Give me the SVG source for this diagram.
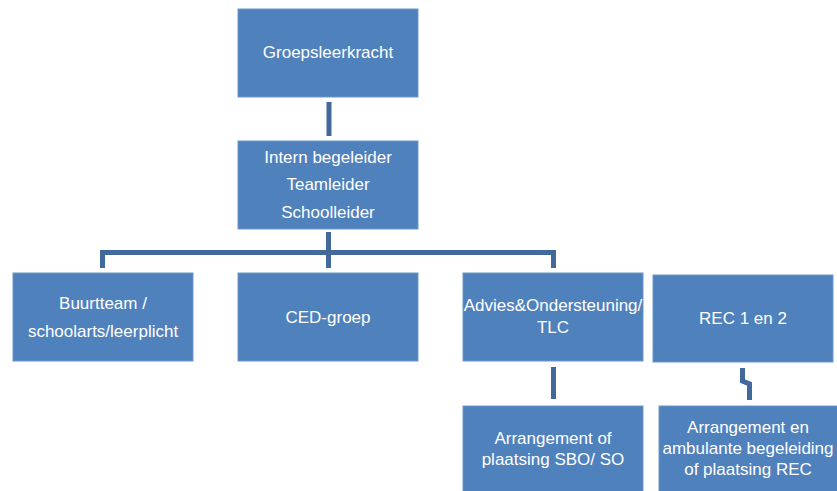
<svg xmlns="http://www.w3.org/2000/svg" width="837" height="491" viewBox="0 0 837 491">
<style>
.box{fill:#4F81BD;stroke:#7096c9;stroke-width:1}
.t{font-family:"Liberation Sans",Arial,sans-serif;font-size:17px;fill:#ffffff;text-anchor:middle}
.c{fill:none;stroke:#41699c;stroke-width:5}
</style>
<rect width="837" height="491" fill="#ffffff"/>
<g id="connectors">
<line class="c" x1="329" y1="102" x2="329" y2="136"/>
<line class="c" x1="328.5" y1="232" x2="328.5" y2="268"/>
<polyline class="c" points="102.5,268 102.5,252.5 553.5,252.5 553.5,268"/>
<line class="c" x1="553.5" y1="367" x2="553.5" y2="399"/>
<polyline class="c" points="742.5,368 742.5,381 749.5,384 749.5,400"/>
</g>
<g id="groepsleerkracht">
<rect class="box" x="238" y="9" width="180" height="88"/>
<text class="t" x="328" y="58">Groepsleerkracht</text>
</g>
<g id="intern">
<rect class="box" x="238" y="141" width="180" height="88"/>
<text class="t" x="328" y="163">Intern begeleider</text>
<text class="t" x="328" y="190">Teamleider</text>
<text class="t" x="328" y="218">Schoolleider</text>
</g>
<g id="buurtteam">
<rect class="box" x="13" y="273" width="180" height="88"/>
<text class="t" x="103" y="309">Buurtteam /</text>
<text class="t" x="103" y="337">schoolarts/leerplicht</text>
</g>
<g id="ced">
<rect class="box" x="238" y="273" width="180" height="88"/>
<text class="t" x="328" y="323">CED-groep</text>
</g>
<g id="advies">
<rect class="box" x="463" y="273" width="180" height="88"/>
<text class="t" x="553" y="311">Advies&amp;Ondersteuning/</text>
<text class="t" x="553" y="333">TLC</text>
</g>
<g id="rec">
<rect class="box" x="653" y="275" width="180" height="87"/>
<text class="t" x="743" y="324">REC 1 en 2</text>
</g>
<g id="sbo">
<rect class="box" x="463" y="406" width="180" height="88"/>
<text class="t" x="553" y="444">Arrangement of</text>
<text class="t" x="553" y="465">plaatsing SBO/ SO</text>
</g>
<g id="recplaatsing">
<rect class="box" x="659" y="406" width="180" height="88"/>
<text class="t" x="748" y="433">Arrangement en</text>
<text class="t" x="748" y="454">ambulante begeleiding</text>
<text class="t" x="748" y="475">of plaatsing REC</text>
</g>
</svg>
